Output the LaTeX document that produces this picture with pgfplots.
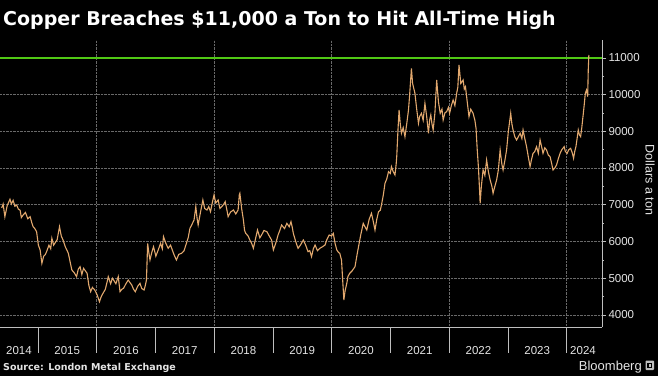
\documentclass[border=0pt]{standalone}
\usepackage{fontspec}
\setmainfont{Liberation Sans}
\newfontfamily\titlefont{DejaVu Sans}
\usepackage{pgfplots}
\pgfplotsset{compat=1.18}
\definecolor{copper}{RGB}{226,168,110}
\definecolor{gridc}{RGB}{105,105,105}
\definecolor{limegr}{RGB}{80,200,20}
\definecolor{txt}{RGB}{228,228,228}
\definecolor{axc}{RGB}{190,190,190}
\begin{document}
\begin{tikzpicture}[x=1pt,y=1pt]
\useasboundingbox (0,0) rectangle (658,376);
\fill[black] (0,0) rectangle (658,376);
\begin{axis}[
  at={(0pt,49pt)}, anchor=south west, scale only axis,
  width=602pt, height=287pt,
  xmin=2014.357, xmax=2024.604, ymin=3673, ymax=11483,
  axis x line*=bottom, axis y line*=right,
  axis line style={axc, line width=0.6pt},
  xtick={2016,2018,2020,2022,2024}, xticklabels={},
  xtick style={draw=none},
  ytick={4000,5000,...,10000},
  extra y ticks={11000},
  extra y tick style={grid=none},
  minor ytick={4500,5500,...,10500},
  scaled y ticks=false,
  yticklabel pos=right, ytick pos=right, tick align=outside,
  major tick length=4pt, minor tick length=2pt,
  y tick style={axc, line width=0.5pt},
  minor y tick style={axc, line width=0.5pt},
  /pgf/number format/1000 sep={},
  /pgf/number format/assume math mode=true,
  yticklabel style={font=\fontsize{11.5}{12}\selectfont, text=txt, xshift=-1pt},
  grid=major,
  major grid style={densely dotted, gridc, line width=0.5pt},
  clip=false,
]
\addplot[draw=limegr, solid, mark=none, line width=1.5pt] coordinates {(2014.357,11000) (2024.604,11000)};
\addplot[draw=copper, line width=1.1pt] coordinates {
(2014.386,6912) (2014.41,7020) (2014.44,6675) (2014.48,6980) (2014.527,7150) (2014.55,7020) (2014.58,7120) (2014.61,6960)
(2014.64,6993) (2014.67,6880) (2014.70,6850) (2014.72,6650) (2014.75,6720) (2014.79,6790) (2014.83,6620) (2014.87,6675)
(2014.90,6500) (2014.92,6403) (2014.95,6350) (2014.98,6266) (2015.01,5900) (2015.04,5770) (2015.07,5405) (2015.10,5600)
(2015.13,5650) (2015.15,5723) (2015.19,5900) (2015.22,5800) (2015.24,6087) (2015.27,5900) (2015.29,5950) (2015.33,6050)
(2015.37,6403) (2015.40,6150) (2015.43,6040) (2015.47,5850) (2015.50,5750) (2015.52,5680) (2015.55,5450) (2015.58,5224)
(2015.62,5150) (2015.66,5043) (2015.69,5250) (2015.72,5315) (2015.75,5100) (2015.78,5270) (2015.81,5200) (2015.84,5135)
(2015.87,4800) (2015.90,4634) (2015.93,4750) (2015.97,4680) (2016.01,4550) (2016.05,4362) (2016.08,4500) (2016.11,4590)
(2016.15,4700) (2016.18,4900) (2016.20,5043) (2016.24,4850) (2016.27,5000) (2016.29,4952) (2016.33,4850) (2016.37,5043)
(2016.40,4634) (2016.43,4700) (2016.46,4726) (2016.50,4850) (2016.54,4952) (2016.57,4880) (2016.60,4816) (2016.63,4700)
(2016.66,4634) (2016.70,4780) (2016.74,4862) (2016.77,4720) (2016.81,4680) (2016.83,4800) (2016.85,4952) (2016.87,5950)
(2016.89,5700) (2016.91,5497) (2016.94,5700) (2016.97,5859) (2017.01,5600) (2017.05,5769) (2017.09,5950) (2017.12,5800)
(2017.14,6131) (2017.18,5950) (2017.22,5815) (2017.26,5900) (2017.31,5680) (2017.33,5600) (2017.36,5497) (2017.40,5650)
(2017.45,5680) (2017.49,5750) (2017.53,5950) (2017.56,6100) (2017.59,6358) (2017.62,6450) (2017.66,6585) (2017.69,6948)
(2017.71,6650) (2017.73,6449) (2017.77,6800) (2017.81,7129) (2017.84,6900) (2017.88,6857) (2017.91,6950) (2017.94,6811)
(2017.97,7050) (2018.00,7265) (2018.03,7050) (2018.07,7129) (2018.10,6900) (2018.13,6948) (2018.16,7000) (2018.19,7083)
(2018.22,6850) (2018.24,6675) (2018.28,6800) (2018.33,6857) (2018.37,6750) (2018.41,6857) (2018.43,7265) (2018.44,7311)
(2018.47,6900) (2018.50,6585) (2018.52,6300) (2018.54,6222) (2018.58,6150) (2018.61,6040) (2018.64,5950) (2018.67,5815)
(2018.71,6100) (2018.74,6313) (2018.78,6100) (2018.81,6177) (2018.85,6300) (2018.90,6267) (2018.94,6150) (2018.98,6040)
(2019.01,5769) (2019.05,5950) (2019.09,6177) (2019.12,6300) (2019.15,6449) (2019.20,6350) (2019.24,6494) (2019.28,6400)
(2019.31,6539) (2019.33,6400) (2019.35,6222) (2019.39,6000) (2019.43,5815) (2019.47,5900) (2019.52,6040) (2019.56,5900)
(2019.60,5723) (2019.63,5750) (2019.66,5587) (2019.69,5800) (2019.72,5905) (2019.76,5750) (2019.80,5815) (2019.84,5850)
(2019.89,5905) (2019.92,6050) (2019.96,6177) (2020.00,6150) (2020.03,6222) (2020.06,5950) (2020.09,5769) (2020.12,5700)
(2020.14,5680) (2020.17,5497) (2020.19,4950) (2020.21,4408) (2020.23,4650) (2020.26,4862) (2020.28,5050) (2020.31,5135)
(2020.35,5200) (2020.40,5315) (2020.43,5600) (2020.47,5950) (2020.50,6200) (2020.54,6494) (2020.57,6400) (2020.60,6313)
(2020.64,6600) (2020.68,6767) (2020.71,6550) (2020.74,6313) (2020.77,6600) (2020.80,6811) (2020.83,6850) (2020.85,6993)
(2020.88,7250) (2020.91,7583) (2020.94,7700) (2020.97,7900) (2021.00,7850) (2021.02,8036) (2021.05,7900) (2021.08,7810)
(2021.10,8100) (2021.11,8308) (2021.13,9000) (2021.15,9578) (2021.17,9200) (2021.19,8944) (2021.22,9100) (2021.25,8852)
(2021.28,9200) (2021.31,9578) (2021.33,10000) (2021.36,10713) (2021.38,10300) (2021.42,10032) (2021.45,9600) (2021.48,9216)
(2021.50,9400) (2021.53,9488) (2021.56,9300) (2021.59,9760) (2021.62,9400) (2021.65,8944) (2021.67,9300) (2021.69,9442)
(2021.71,9200) (2021.73,9034) (2021.76,9500) (2021.79,10395) (2021.82,9800) (2021.85,9488) (2021.88,9600) (2021.90,9306)
(2021.93,9500) (2021.96,9533) (2021.99,9650) (2022.01,9488) (2022.04,9700) (2022.07,9850) (2022.10,9700) (2022.13,10032)
(2022.15,10200) (2022.17,10803) (2022.20,10300) (2022.24,10395) (2022.26,10150) (2022.28,10213) (2022.31,9800) (2022.34,9397)
(2022.37,9600) (2022.41,9488) (2022.44,9300) (2022.46,9080) (2022.48,8500) (2022.50,8036) (2022.52,7401) (2022.53,7040)
(2022.55,7500) (2022.58,7946) (2022.61,7800) (2022.64,8218) (2022.67,7900) (2022.70,7674) (2022.73,7500) (2022.75,7311)
(2022.78,7500) (2022.81,7674) (2022.84,7950) (2022.87,8490) (2022.90,8100) (2022.92,7946) (2022.95,8200) (2022.98,8490)
(2023.01,9000) (2023.05,9488) (2023.07,9200) (2023.09,9034) (2023.12,8850) (2023.15,8762) (2023.18,8850) (2023.21,8944)
(2023.24,8800) (2023.26,9034) (2023.29,8800) (2023.32,8580) (2023.35,8300) (2023.38,8036) (2023.40,8200) (2023.43,8399)
(2023.46,8450) (2023.49,8580) (2023.52,8400) (2023.55,8762) (2023.58,8550) (2023.60,8399) (2023.63,8550) (2023.66,8490)
(2023.69,8350) (2023.72,8308) (2023.75,8100) (2023.77,7946) (2023.80,8000) (2023.83,8082) (2023.86,8250) (2023.89,8399)
(2023.92,8500) (2023.96,8580) (2023.98,8450) (2024.01,8399) (2024.04,8500) (2024.07,8535) (2024.10,8400) (2024.12,8263)
(2024.14,8450) (2024.16,8580) (2024.18,8800) (2024.20,9034) (2024.22,8900) (2024.24,8852) (2024.26,9100) (2024.28,9397)
(2024.30,9700) (2024.32,10032) (2024.34,10122) (2024.36,9941) (2024.37,10667) (2024.38,11075)
};
\end{axis}
% x-axis strip: separators and year labels
\foreach \yr in {2015,...,2024}{
  \pgfmathsetmacro{\xb}{(\yr-2014.357)*58.75}
  \draw[axc, line width=0.5pt] (\xb,49) -- (\xb,23);
}
\foreach \yr/\xc in {2014/18.9,2015/67.2,2016/125.9,2017/184.7,2018/243.4,2019/302.2,2020/360.9,2021/419.7,2022/478.4,2023/537.2,2024/583}{
  \node[text=txt, font=\fontsize{11.5}{12}\selectfont, anchor=base] at (\xc,22) {\yr};
}
% title
\node[anchor=base west, text=white, font=\titlefont\fontsize{19}{22}\bfseries\selectfont, inner sep=0pt] at (3,351) {Copper Breaches \$11,000 a Ton to Hit All-Time High};
% axis title
\node[rotate=-90, text=txt, font=\fontsize{12.5}{14}\selectfont] at (650,196) {Dollars a ton};
% source
\node[anchor=base west, text=txt, font=\titlefont\fontsize{9.5}{12}\bfseries\selectfont, inner sep=0pt] at (3,6) {Source: London Metal Exchange};
\node[anchor=base east, text=txt, font=\fontsize{13}{14}\selectfont, inner sep=0pt] at (642,6) {Bloomberg};
\fill[axc, rounded corners=0.8pt] (645.5,6) rectangle (654,15.5);
\fill[black] (647.3,8) rectangle (652.2,13.5);
\fill[axc] (648.5,9.2) rectangle (651,12.3);
\end{tikzpicture}
\end{document}
